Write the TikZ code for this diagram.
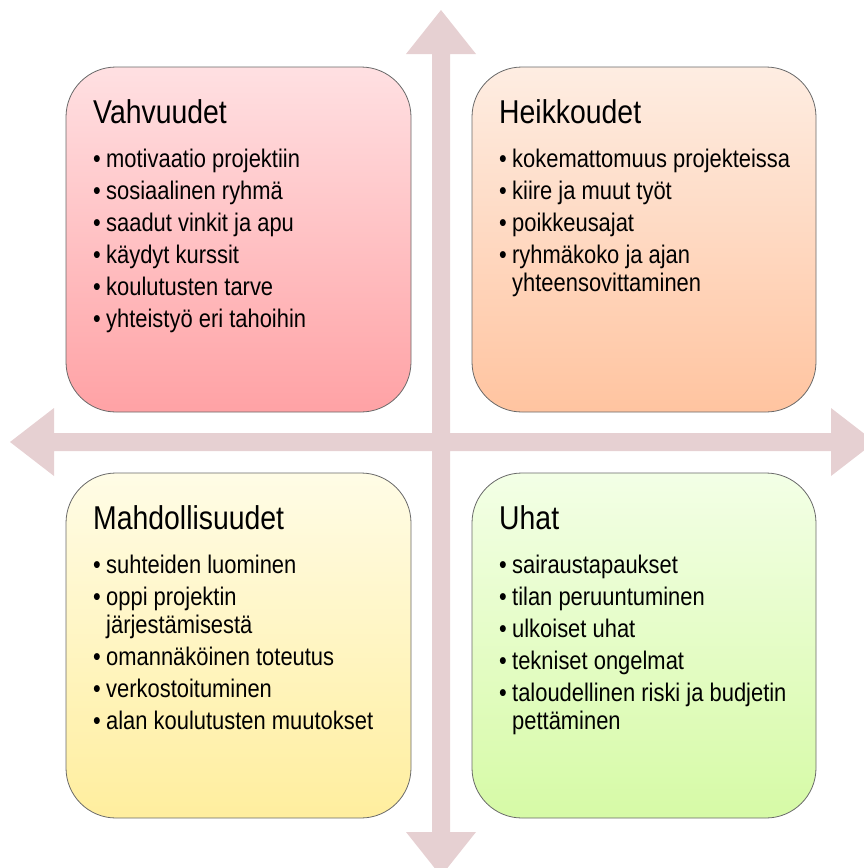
\documentclass[tikz,border=0pt]{standalone}
\usepackage{fontspec}
\setmainfont{Liberation Sans}[FakeStretch=0.86]
\begin{document}
\begin{tikzpicture}[x=1pt,y=-1pt,
  quad/.style={draw={rgb,255:red,105;green,105;blue,105}, line width=0.8pt, rounded corners=50pt},
  ttl/.style={anchor=base west, inner sep=0pt, font=\fontsize{33}{36}\selectfont},
  itm/.style={anchor=base west, inner sep=0pt, font=\fontsize{25.5}{28}\selectfont},
  axis/.style={fill={rgb,255:red,230;green,208;blue,210}, draw=none}]
\useasboundingbox (0,0) rectangle (864,868);
\begin{scope}
\clip (0,0) rectangle (864,868);
% cross arrows
\fill[axis] (432,54) -- (406,54) -- (441,10) -- (476,54) -- (450,54) -- (450,433)
  -- (831,433) -- (831,408) -- (875,442) -- (831,476) -- (831,451) -- (450,451)
  -- (450,832) -- (476,832) -- (441,876) -- (406,832) -- (432,832) -- (432,451)
  -- (54,451) -- (54,476) -- (10,442) -- (54,408) -- (54,433) -- (432,433) -- cycle;
\end{scope}
% boxes
\path[quad, top color={rgb,255:red,255;green,224;blue,226}, bottom color={rgb,255:red,255;green,162;blue,165}] (66,67) rectangle (411,412);
\path[quad, top color={rgb,255:red,254;green,237;blue,226}, bottom color={rgb,255:red,255;green,196;blue,160}] (472,67) rectangle (816,412);
\path[quad, top color={rgb,255:red,255;green,252;blue,230}, bottom color={rgb,255:red,255;green,238;blue,158}] (66,473) rectangle (411,818);
\path[quad, top color={rgb,255:red,243;green,255;blue,230}, bottom color={rgb,255:red,214;green,250;blue,166}] (472,473) rectangle (816,818);
% Vahvuudet
\node[ttl] (t1) at (93,123) {Vahvuudet};
\node[itm] (s1) at (93,167) {\makebox[13pt][l]{•}motivaatio projektiin};
\node[itm] (s2) at (93,199) {\makebox[13pt][l]{•}sosiaalinen ryhmä};
\node[itm] (s3) at (93,231) {\makebox[13pt][l]{•}saadut vinkit ja apu};
\node[itm] (s4) at (93,263) {\makebox[13pt][l]{•}käydyt kurssit};
\node[itm] (s5) at (93,295) {\makebox[13pt][l]{•}koulutusten tarve};
\node[itm] (s6) at (93,327) {\makebox[13pt][l]{•}yhteistyö eri tahoihin};
% Heikkoudet
\node[ttl] (t2) at (499,123) {Heikkoudet};
\node[itm] (w1) at (499,167) {\makebox[13pt][l]{•}kokemattomuus projekteissa};
\node[itm] (w2) at (499,199) {\makebox[13pt][l]{•}kiire ja muut työt};
\node[itm] (w3) at (499,231) {\makebox[13pt][l]{•}poikkeusajat};
\node[itm] (w4) at (499,263) {\makebox[13pt][l]{•}ryhmäkoko ja ajan};
\node[itm] (w4b) at (512,291) {yhteensovittaminen};
% Mahdollisuudet
\node[ttl] (t3) at (93,529) {Mahdollisuudet};
\node[itm] (o1) at (93,573) {\makebox[13pt][l]{•}suhteiden luominen};
\node[itm] (o2) at (93,605) {\makebox[13pt][l]{•}oppi projektin};
\node[itm] (o2b) at (106,633) {järjestämisestä};
\node[itm] (o3) at (93,665) {\makebox[13pt][l]{•}omannäköinen toteutus};
\node[itm] (o4) at (93,697) {\makebox[13pt][l]{•}verkostoituminen};
\node[itm] (o5) at (93,729) {\makebox[13pt][l]{•}alan koulutusten muutokset};
% Uhat
\node[ttl] (t4) at (499,529) {Uhat};
\node[itm] (u1) at (499,573) {\makebox[13pt][l]{•}sairaustapaukset};
\node[itm] (u2) at (499,605) {\makebox[13pt][l]{•}tilan peruuntuminen};
\node[itm] (u3) at (499,637) {\makebox[13pt][l]{•}ulkoiset uhat};
\node[itm] (u4) at (499,669) {\makebox[13pt][l]{•}tekniset ongelmat};
\node[itm] (u5) at (499,701) {\makebox[13pt][l]{•}taloudellinen riski ja budjetin};
\node[itm] (u5b) at (512,729) {pettäminen};
\end{tikzpicture}
\end{document}
